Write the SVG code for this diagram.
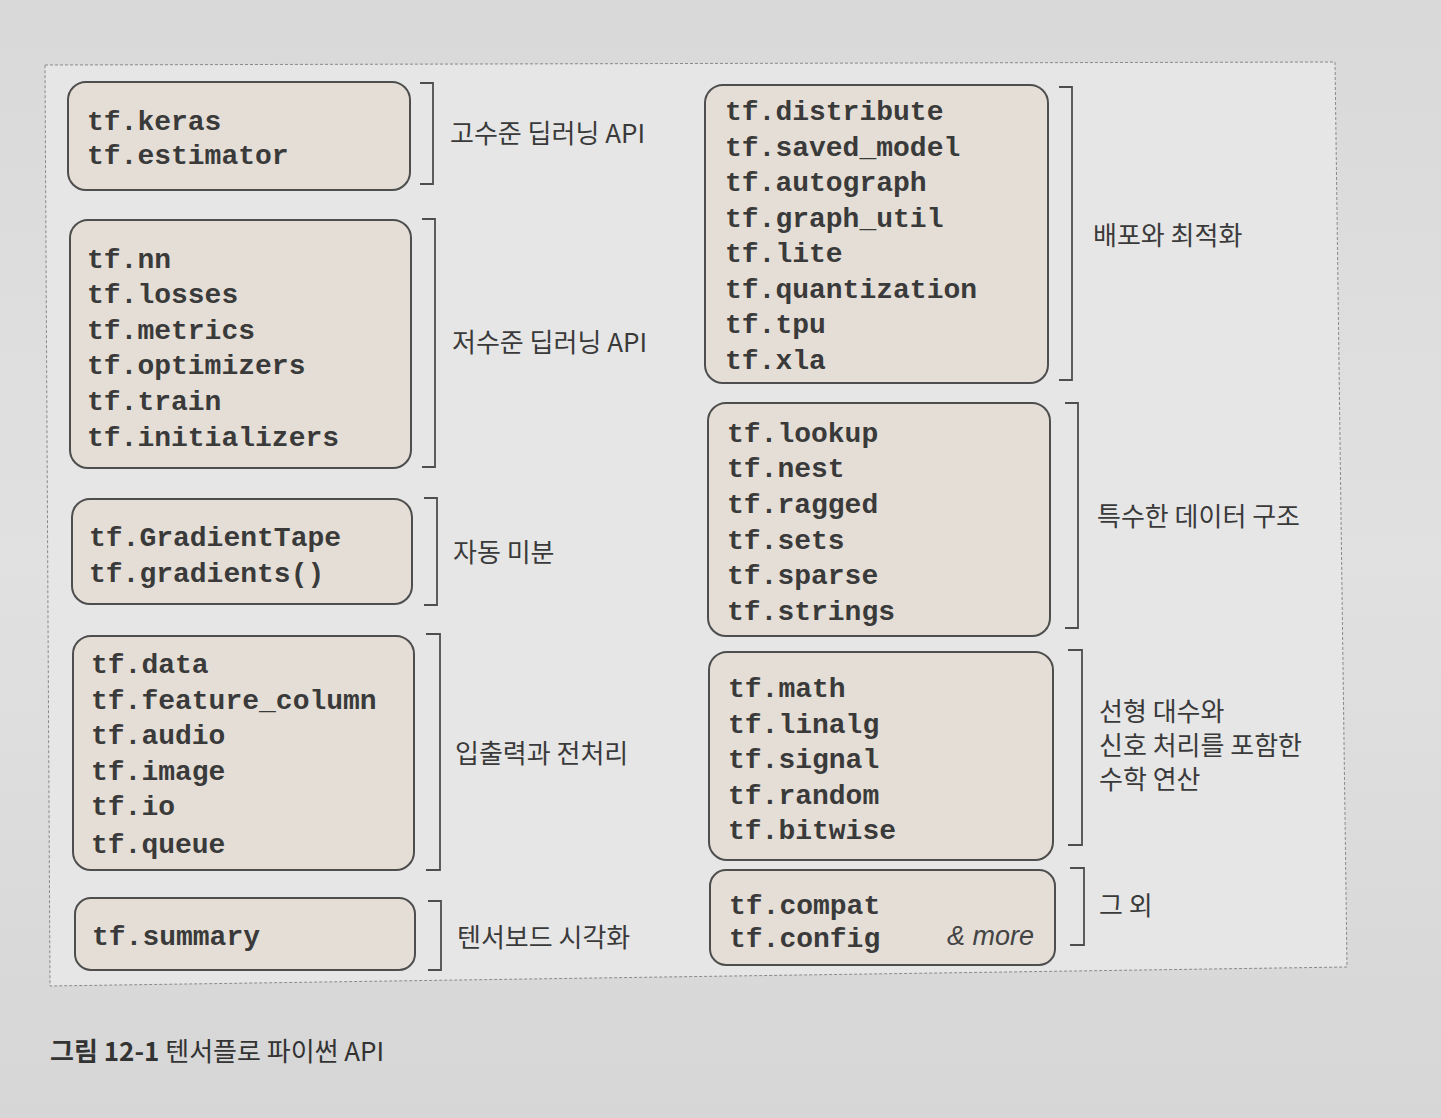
<svg xmlns="http://www.w3.org/2000/svg" width="1441" height="1118" viewBox="0 0 1441 1118">
<defs>
<linearGradient id="bg" x1="0" y1="0" x2="0" y2="1">
<stop offset="0" stop-color="#d9d9d9"/>
<stop offset="0.5" stop-color="#e1e1e1"/>
<stop offset="1" stop-color="#d6d6d6"/>
</linearGradient>
<style>
.box{fill:#e4ded6;stroke:#4e4e4e;stroke-width:2}
.br{fill:none;stroke:#4e4e4e;stroke-width:1.8}
.code{font-family:"Liberation Mono","Courier New",monospace;font-weight:bold;font-size:28px;fill:#3a3a3a}
.lab{font-family:"Noto Sans CJK KR","Noto Sans",sans-serif;font-size:26px;fill:#3a3a3a;font-weight:400}
.more{font-family:"Liberation Sans",Arial,sans-serif;font-style:italic;font-size:27px;fill:#444}
</style>
</defs>
<rect x="0" y="0" width="1441" height="1118" fill="url(#bg)"/>
<path d="M45 65 L1335 62 L1347 967 L50 986 Z" fill="#e6e6e6" stroke="#8a8a8a" stroke-width="1" stroke-dasharray="3 2"/>

<g id="connectors">
<path class="br" d="M420 83 H433 V184 H420"/>
<path class="br" d="M422 219 H435 V467 H422"/>
<path class="br" d="M424 498 H437 V605 H424"/>
<path class="br" d="M426 634 H440 V870 H426"/>
<path class="br" d="M428 901 H441 V970 H428"/>
<path class="br" d="M1059 87 H1072 V380 H1059"/>
<path class="br" d="M1065 403 H1078 V628 H1065"/>
<path class="br" d="M1068 650 H1082 V845 H1068"/>
<path class="br" d="M1070 868 H1084 V945 H1070"/>
</g>

<g id="n-highlevel">
<rect class="box" x="68" y="82" width="342" height="108" rx="18"/>
<text class="code" x="87" y="130">tf.keras</text>
<text class="code" x="87" y="164">tf.estimator</text>
<text class="lab" x="450" y="143">고수준 딥러닝 API</text>
</g>

<g id="n-lowlevel">
<rect class="box" x="70" y="220" width="341" height="248" rx="18"/>
<text class="code" x="87" y="268">tf.nn</text>
<text class="code" x="87" y="303">tf.losses</text>
<text class="code" x="87" y="339">tf.metrics</text>
<text class="code" x="87" y="374">tf.optimizers</text>
<text class="code" x="87" y="410">tf.train</text>
<text class="code" x="87" y="446">tf.initializers</text>
<text class="lab" x="452" y="352">저수준 딥러닝 API</text>
</g>

<g id="n-autodiff">
<rect class="box" x="72" y="499" width="340" height="105" rx="18"/>
<text class="code" x="89" y="546">tf.GradientTape</text>
<text class="code" x="89" y="582">tf.gradients()</text>
<text class="lab" x="453" y="562">자동 미분</text>
</g>

<g id="n-io">
<rect class="box" x="73" y="636" width="341" height="234" rx="18"/>
<text class="code" x="91" y="673">tf.data</text>
<text class="code" x="91" y="709">tf.feature_column</text>
<text class="code" x="91" y="744">tf.audio</text>
<text class="code" x="91" y="780">tf.image</text>
<text class="code" x="91" y="815">tf.io</text>
<text class="code" x="91" y="853">tf.queue</text>
<text class="lab" x="455" y="763">입출력과 전처리</text>
</g>

<g id="n-tensorboard">
<rect class="box" x="75" y="898" width="340" height="72" rx="16"/>
<text class="code" x="92" y="945">tf.summary</text>
<text class="lab" x="457" y="947">텐서보드 시각화</text>
</g>

<g id="n-deploy">
<rect class="box" x="705" y="85" width="343" height="298" rx="18"/>
<text class="code" x="725" y="120">tf.distribute</text>
<text class="code" x="725" y="156">tf.saved_model</text>
<text class="code" x="725" y="191">tf.autograph</text>
<text class="code" x="725" y="227">tf.graph_util</text>
<text class="code" x="725" y="262">tf.lite</text>
<text class="code" x="725" y="298">tf.quantization</text>
<text class="code" x="725" y="333">tf.tpu</text>
<text class="code" x="725" y="369">tf.xla</text>
<text class="lab" x="1093" y="245">배포와 최적화</text>
</g>

<g id="n-datastruct">
<rect class="box" x="708" y="403" width="342" height="233" rx="18"/>
<text class="code" x="727" y="442">tf.lookup</text>
<text class="code" x="727" y="477">tf.nest</text>
<text class="code" x="727" y="513">tf.ragged</text>
<text class="code" x="727" y="549">tf.sets</text>
<text class="code" x="727" y="584">tf.sparse</text>
<text class="code" x="727" y="620">tf.strings</text>
<text class="lab" x="1097" y="526">특수한 데이터 구조</text>
</g>

<g id="n-math">
<rect class="box" x="709" y="652" width="344" height="208" rx="18"/>
<text class="code" x="728" y="697">tf.math</text>
<text class="code" x="728" y="733">tf.linalg</text>
<text class="code" x="728" y="768">tf.signal</text>
<text class="code" x="728" y="804">tf.random</text>
<text class="code" x="728" y="839">tf.bitwise</text>
<text class="lab" x="1099" y="721">선형 대수와</text>
<text class="lab" x="1099" y="755">신호 처리를 포함한</text>
<text class="lab" x="1099" y="789">수학 연산</text>
</g>

<g id="n-other">
<rect class="box" x="710" y="870" width="345" height="95" rx="16"/>
<text class="code" x="729" y="914">tf.compat</text>
<text class="code" x="729" y="947">tf.config</text>
<text class="more" x="947" y="945">&amp; more</text>
<text class="lab" x="1099" y="915">그 외</text>
</g>

<text x="50" y="1061" font-family="Noto Sans CJK KR,Noto Sans,sans-serif" font-size="26" fill="#333"><tspan font-weight="bold">그림 12-1</tspan> 텐서플로 파이썬 API</text>
</svg>
